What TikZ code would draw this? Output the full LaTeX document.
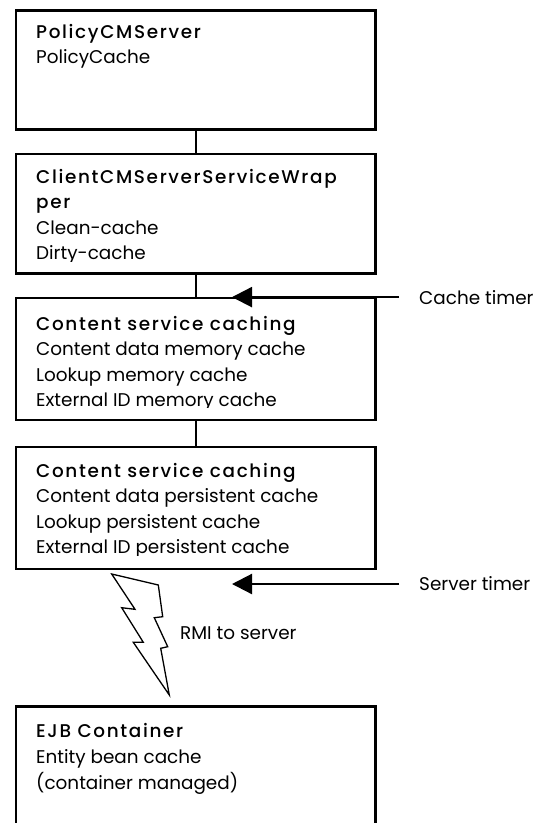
\documentclass[tikz,border=0pt]{standalone}
\usepackage{fontspec}
\setmainfont{Poppins}
\newfontfamily\headfont[UprightFont={* Medium},LetterSpace=9]{Poppins}
\usetikzlibrary{arrows.meta}

\tikzset{
  box/.style={draw, line width=2.2pt, anchor=north west, inner sep=0pt,
              minimum width=359.6pt},
  link/.style={line width=2pt},
  head/.style={anchor=base west, inner sep=0pt,
               font=\headfont\fontsize{18.4}{20}\selectfont},
  body/.style={anchor=base west, inner sep=0pt,
               font=\fontsize{18.4}{20}\selectfont},
  timer/.style={line width=2.2pt, -{Triangle[length=20pt,width=20pt]}},
  bolt/.style={draw, fill=white, line width=1.3pt, line join=miter},
}

\begin{document}
\begin{tikzpicture}[x=1pt,y=-1pt]
\useasboundingbox (0,0) rectangle (535,823);

% boxes (the last one runs past the lower page edge)
\node[box, minimum height=119pt]   (b1) at (14.7,9.3)   {};
\node[box, minimum height=119.3pt] (b2) at (14.7,153)   {};
\node[box, minimum height=121.6pt] (b3) at (14.7,297.1) {};
\node[box, minimum height=122.2pt] (b4) at (14.7,445.5) {};
\node[box, minimum height=130pt]   (b5) at (14.7,705.4) {};

% links between the stacked boxes
\draw[link] (b1.south) -- (b2.north);
\draw[link] (b2.south) -- (b3.north);
\draw[link] (b3.south) -- (b4.north);

% box texts; the last line of a full box loses its descenders
\node[head] (t1a) at (36,38.3) {PolicyCMServer};
\node[body] (t1b) at (36,63.5) {PolicyCache};

\node[head] (t2a) at (36,183)   {ClientCMServerServiceWrap};
\node[head] (t2b) at (36,208.5) {per};
\node[body] (t2c) at (36,234)   {Clean-cache};
\begin{scope}
  \clip (14.7,240) rectangle (374.3,261.2);
  \node[body] (t2d) at (36,259.8) {Dirty-cache};
\end{scope}

\node[head] (t3a) at (36,330)   {Content service caching};
\node[body] (t3b) at (36,355.5) {Content data memory cache};
\node[body] (t3c) at (36,381)   {Lookup memory cache};
\begin{scope}
  \clip (14.7,390) rectangle (374.3,407.6);
  \node[body] (t3d) at (36,406.3) {External ID memory cache};
\end{scope}

\node[head] (t4a) at (36,477)   {Content service caching};
\node[body] (t4b) at (36,502.5) {Content data persistent cache};
\node[body] (t4c) at (36,528.5) {Lookup persistent cache};
\begin{scope}
  \clip (14.7,535) rectangle (374.3,555.2);
  \node[body] (t4d) at (36,553.8) {External ID persistent cache};
\end{scope}

\node[head] (t5a) at (36,737) {EJB Container};
\node[body] (t5b) at (36,763) {Entity bean cache};
\node[body] (t5c) at (36,789) {(container managed)};

% timers
\coordinate (ctstart) at (399,297.1);
\coordinate (cttip)   at (232,297.1);
\draw[timer] (ctstart) -- (cttip);
\node[body, anchor=west] (ctlabel) at (419,297.1) {Cache timer};

\coordinate (ststart) at (399,584);
\coordinate (sttip)   at (232,584);
\draw[timer] (ststart) -- (sttip);
\node[body, anchor=west] (stlabel) at (419,584) {Server timer};

% RMI lightning bolt
\draw[bolt] (111.7,574) -- (158.3,585) -- (162.7,616.7) -- (154.3,617.7)
  -- (167.7,646.7) -- (160.7,648.3) -- (169.3,695) -- (133.3,642.3)
  -- (143.3,642.3) -- (121.7,607.7) -- (135,609.3) -- cycle;
\node[body, anchor=west] (rmi) at (180,633) {RMI to server};
\end{tikzpicture}
\end{document}
